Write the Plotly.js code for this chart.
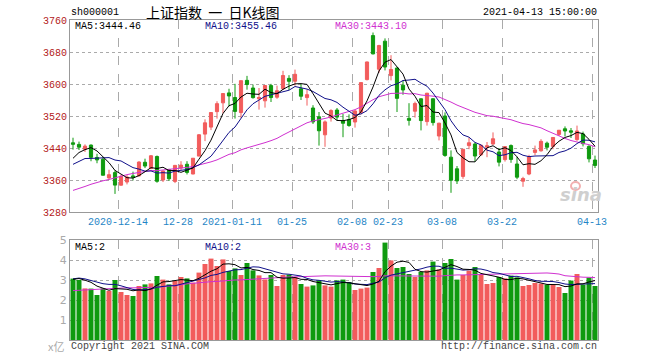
<!DOCTYPE html>
<html><head><meta charset="utf-8">
<script src="https://cdn.plot.ly/plotly-3.0.1.min.js"></script>
<style>html,body{margin:0;padding:0;background:#fff}#chart{width:660px;height:360px}</style>
</head><body><div id="chart"></div>
<script>
const dates = ['2020-12-02','2020-12-03','2020-12-04','2020-12-07','2020-12-08','2020-12-09','2020-12-10','2020-12-11',
'2020-12-14','2020-12-15','2020-12-16','2020-12-17','2020-12-18','2020-12-21','2020-12-22','2020-12-23','2020-12-24','2020-12-25',
'2020-12-28','2020-12-29','2020-12-30','2020-12-31','2021-01-04','2021-01-05','2021-01-06','2021-01-07','2021-01-08',
'2021-01-11','2021-01-12','2021-01-13','2021-01-14','2021-01-15','2021-01-18','2021-01-19','2021-01-20','2021-01-21','2021-01-22',
'2021-01-25','2021-01-26','2021-01-27','2021-01-28','2021-01-29','2021-02-01','2021-02-02','2021-02-03','2021-02-04','2021-02-05',
'2021-02-08','2021-02-09','2021-02-10','2021-02-18','2021-02-19','2021-02-22',
'2021-02-23','2021-02-24','2021-02-25','2021-02-26','2021-03-01','2021-03-02','2021-03-03','2021-03-04','2021-03-05',
'2021-03-08','2021-03-09','2021-03-10','2021-03-11','2021-03-12','2021-03-15','2021-03-16','2021-03-17','2021-03-18','2021-03-19',
'2021-03-22','2021-03-23','2021-03-24','2021-03-25','2021-03-26','2021-03-29','2021-03-30','2021-03-31','2021-04-01','2021-04-02',
'2021-04-06','2021-04-07','2021-04-08','2021-04-09','2021-04-12','2021-04-13'];

const openP = [3453.0,3449.0,3436.9,3447.2,3416.4,3411.8,3365.3,3378.5,
3347.1,3355.0,3370.2,3370.4,3404.3,3389.0,3418.8,3360.0,3386.0,3356.5,
3390.0,3399.3,3375.0,3419.7,3474.7,3492.2,3530.9,3552.9,3577.7,
3566.2,3528.6,3609.1,3590.0,3563.0,3558.0,3596.0,3567.0,3588.0,3614.0,
3607.0,3588.0,3566.0,3540.0,3518.0,3473.0,3515.0,3535.0,3508.0,3511.0,
3505.0,3529.0,3611.0,3721.0,3637.0,3707.0,
3621.0,3640.0,3597.0,3514.0,3532.0,3563.0,3506.0,3563.0,3470.0,
3520.0,3417.0,3388.0,3369.0,3446.0,3450.0,3423.0,3442.0,3450.0,3430.0,
3411.0,3446.0,3400.0,3357.0,3375.0,3429.0,3433.0,3452.0,3444.0,3474.0,
3488.0,3483.0,3461.0,3475.0,3444.0,3410.0];

const highP = [3465.7,3456.0,3449.0,3449.0,3425.6,3417.7,3385.6,3384.6,
3373.6,3372.0,3380.9,3406.9,3413.3,3422.4,3421.1,3384.0,3387.9,3397.6,
3407.0,3407.0,3414.5,3474.9,3511.7,3528.7,3556.8,3576.2,3588.1,
3600.5,3608.3,3620.3,3598.6,3590.0,3597.2,3600.4,3596.0,3633.0,3622.0,
3636.0,3600.0,3586.0,3547.0,3530.0,3509.0,3537.0,3540.0,3525.0,3524.0,
3535.0,3603.5,3656.0,3731.7,3698.0,3714.0,
3672.0,3641.0,3609.0,3552.0,3556.0,3564.0,3578.0,3564.0,3503.0,
3529.0,3434.0,3395.0,3437.0,3466.0,3454.0,3448.0,3455.0,3479.0,3440.0,
3444.0,3449.0,3418.0,3368.0,3423.0,3446.0,3462.0,3456.0,3467.0,3485.0,
3494.0,3490.0,3496.0,3481.0,3447.0,3421.0];

const lowP = [3435.9,3435.0,3430.0,3406.9,3401.9,3371.5,3362.7,3325.2,
3345.8,3349.0,3358.9,3368.7,3389.8,3387.0,3353.2,3354.9,3357.6,3352.3,
3384.0,3373.8,3374.4,3419.7,3457.2,3484.7,3513.5,3526.6,3544.0,
3513.6,3515.2,3585.8,3563.4,3536.0,3541.0,3555.0,3563.0,3585.0,3585.0,
3596.0,3560.0,3546.0,3500.0,3446.0,3443.0,3506.0,3509.0,3467.0,3493.0,
3491.0,3524.0,3609.0,3674.0,3628.0,3634.0,
3609.0,3530.0,3573.0,3496.0,3516.0,3484.0,3496.0,3496.0,3459.0,
3418.0,3328.0,3350.0,3363.0,3437.0,3406.0,3420.0,3417.0,3448.0,3394.0,
3406.0,3403.0,3362.0,3343.0,3372.0,3422.0,3431.0,3434.0,3437.0,3470.0,
3469.0,3465.0,3458.0,3444.0,3404.0,3390.0];

const closeP = [3449.38,3442.14,3444.58,3416.60,3410.18,3371.96,3373.28,3347.19,
3369.12,3367.23,3366.98,3404.87,3394.90,3420.57,3356.78,3382.32,3363.11,3396.56,
3397.29,3379.04,3414.45,3473.07,3502.96,3528.68,3550.88,3576.20,3570.11,
3531.50,3608.34,3598.65,3565.90,3566.38,3596.22,3566.12,3583.09,3621.26,3606.75,
3624.24,3569.43,3573.34,3505.18,3483.07,3505.28,3533.68,3517.31,3501.86,3496.33,
3532.44,3603.49,3655.09,3675.36,3696.17,3642.44,
3636.36,3564.08,3585.05,3509.08,3551.40,3508.59,3576.90,3503.49,3501.99,
3421.41,3359.29,3357.74,3436.83,3453.08,3419.95,3446.73,3445.55,3463.07,3404.66,
3443.44,3411.51,3367.06,3363.59,3418.33,3435.30,3456.68,3441.91,3466.33,3484.39,
3482.48,3479.63,3482.56,3450.68,3412.95,3396.47];

// closes of the 29 sessions before the first candle (needed for the moving averages)
const priorClose = [3312.50,3278.00,3251.12,3254.32,3269.24,3272.74,3224.53,3225.12,3271.07,3277.44,
3320.13,3312.16,3373.73,3360.15,3342.20,3338.68,3310.10,3346.97,3339.90,3347.30,
3363.09,3377.73,3414.49,3402.82,3362.33,3369.73,3408.31,3391.76,3451.94];

const volume = [3.07,3.0,2.58,2.57,2.25,2.58,2.45,3.0,2.4,2.25,
2.2,2.7,2.78,2.83,3.2,3.02,2.78,2.95,3.15,3.08,
2.87,3.37,3.8,4.07,3.7,4.03,3.45,3.58,3.25,3.85,
3.48,3.23,3.03,3.25,2.7,3.25,3.27,3.15,2.8,2.67,
2.73,2.98,2.73,2.67,2.98,3.02,2.9,2.5,2.57,2.62,
3.4,3.6,4.87,3.98,3.6,3.65,3.3,3.15,3.4,3.48,
3.92,3.53,3.85,4.05,3.02,3.25,3.47,3.65,3.25,2.8,
2.85,3.15,3.08,3.22,3.13,2.7,2.75,2.85,2.82,2.77,
2.75,2.65,2.35,2.97,3.3,2.77,3.12,2.7];

const priorVolume = [2.3,2.2,1.9,2.1,2.0,2.1,2.2,1.9,2.1,2.3,
2.6,2.4,3.0,2.6,2.2,2.0,1.9,2.0,1.8,1.9,
2.6,3.0,3.4,3.3,3.1,2.8,3.0,3.1,3.2];

const tickDates = ['2020-12-14','2020-12-28','2021-01-11','2021-01-25','2021-02-08','2021-02-23','2021-03-08','2021-03-22','2021-04-13'];
const tickText  = ['2020-12-14','12-28','2021-01-11','01-25','02-08','02-23','03-08','03-22','04-13'];
const priceTicks = [3280,3360,3440,3520,3600,3680,3760];
const volTicks = [1,2,3,4,5];
const priceLabels = ['MA5:3444.46', 'MA10:3455.46', 'MA30:3443.10'];
const volLabels = ['MA5:2', 'MA10:2', 'MA30:3'];

const RED = '#f25c5c', GREEN = '#0f9a0f';
const C5 = '#000000', C10 = '#10108a', C30 = '#d030d0';
const MONO = 'Liberation Mono, DejaVu Sans Mono, monospace';

const idx = dates.map((d, i) => i);
const tickPos = tickDates.map(d => dates.indexOf(d) - 0.5);

function movingAvg(prior, cur, n) {
  const all = prior.concat(cur), out = [];
  for (let i = 0; i < cur.length; i++) {
    const end = prior.length + i;
    let s = 0;
    for (let j = end - n + 1; j <= end; j++) s += all[j];
    out.push(s / n);
  }
  return out;
}
const ma5 = movingAvg(priorClose, closeP, 5);
const ma10 = movingAvg(priorClose, closeP, 10);
const ma30 = movingAvg(priorClose, closeP, 30);
const vma5 = movingAvg(priorVolume, volume, 5);
const vma10 = movingAvg(priorVolume, volume, 10);
const vma30 = movingAvg(priorVolume, volume, 30);
const volColors = closeP.map((c, i) => c >= openP[i] ? RED : GREEN);

const line = (y, color, xa, ya) => ({type:'scatter', mode:'lines', x: idx, y: y, xaxis: xa, yaxis: ya,
  line:{color: color, width: 1}, hoverinfo:'skip'});

const traces = [
  {type:'candlestick', x: idx, open: openP, high: highP, low: lowP, close: closeP,
   xaxis:'x', yaxis:'y', whiskerwidth: 0,
   increasing:{line:{color: RED, width: 1}, fillcolor: RED},
   decreasing:{line:{color: GREEN, width: 1}, fillcolor: GREEN}, hoverinfo:'skip'},
  line(ma30, C30, 'x', 'y'),
  line(ma10, C10, 'x', 'y'),
  line(ma5, C5, 'x', 'y'),
  {type:'bar', x: idx, y: volume, xaxis:'x2', yaxis:'y2', marker:{color: volColors, line:{width:0}}, hoverinfo:'skip'},
  line(vma30, C30, 'x2', 'y2'),
  line(vma10, C10, 'x2', 'y2'),
  line(vma5, C5, 'x2', 'y2')
];

const px = x => (x - 70) / 528;
const py = y => (340 - y) / 320;
const ann = (text, x, y, xanchor, color, size, family, bg) => ({text, x: px(x), y: py(y), xref:'paper', yref:'paper',
  xanchor, yanchor:'middle', showarrow:false, bgcolor: bg || 'rgba(0,0,0,0)', borderpad: 0,
  font:{family: family || MONO, size: size || 10, color}});

const gridX = {tickvals: tickPos, showgrid: true, gridcolor:'#aaaaaa', griddash:'dash', gridwidth: 1,
  showline: true, mirror: true, linecolor:'#999999', linewidth: 1, zeroline: false, ticks:'',
  range:[-0.5, idx.length - 0.5], fixedrange: true};

const layout = {
  width: 660, height: 360, margin:{l:70, r:62, t:20, b:20},
  paper_bgcolor:'#ffffff', plot_bgcolor:'#ffffff', showlegend:false, hovermode:false,
  boxgap: 0.25, bargap: 0.17,
  xaxis: Object.assign({}, gridX, {domain:[0,1], anchor:'y', rangeslider:{visible:false},
    ticktext: tickText, tickfont:{family: MONO, size: 10, color:'#1f86c6'}}),
  xaxis2: Object.assign({}, gridX, {domain:[0,1], anchor:'y2', matches:'x', showticklabels:false}),
  yaxis: {domain:[0.4,1], range:[3280,3760], tickvals: priceTicks, ticks:'',
    tickfont:{family: MONO, size: 10, color:'#b32020'}, showgrid:true, gridcolor:'#aaaaaa', griddash:'dot',
    showline:true, mirror:true, linecolor:'#999999', linewidth:1, zeroline:false, fixedrange:true},
  yaxis2: {domain:[0,0.3125], range:[0,5], tickvals: volTicks, ticks:'',
    tickfont:{family:'DejaVu Sans, sans-serif', size: 11, color:'#aaaaaa'}, showgrid:true, gridcolor:'#aaaaaa', griddash:'dot',
    showline:true, mirror:true, linecolor:'#999999', linewidth:1, zeroline:false, fixedrange:true},
  annotations: [
    ann('sh000001', 70, 12, 'left', '#000000', 10),
    ann('上证指数  一  日K线图', 213, 12, 'center', '#000000', 14, 'Noto Sans CJK SC, sans-serif'),
    ann('2021-04-13 15:00:00', 598, 12, 'right', '#000000', 10),
    ann(priceLabels[0], 74, 26, 'left', C5, 10, MONO, '#ffffff'),
    ann(priceLabels[1], 204, 26, 'left', C10, 10, MONO, '#ffffff'),
    ann(priceLabels[2], 334, 26, 'left', C30, 10, MONO, '#ffffff'),
    ann(volLabels[0], 74, 247, 'left', C5, 10, MONO, '#ffffff'),
    ann(volLabels[1], 204, 247, 'left', C10, 10, MONO, '#ffffff'),
    ann(volLabels[2], 334, 247, 'left', C30, 10, MONO, '#ffffff'),
    ann('x亿', 65, 346, 'right', '#aaaaaa', 11, 'Noto Sans CJK SC, sans-serif'),
    ann('Copyright 2021 SINA.COM', 70, 346, 'left', '#444444', 10),
    ann('http://finance.sina.com.cn', 598, 346, 'right', '#444444', 10),
    {text:'sina', x: px(581), y: py(194), xref:'paper', yref:'paper', xanchor:'center', yanchor:'middle', showarrow:false,
     font:{family:'DejaVu Sans, sans-serif', size:18, color:'#cfcfcf', style:'italic', weight:'bold'}}
  ],
  shapes: [
    {type:'circle', xref:'paper', yref:'paper', x0: px(571), x1: px(580), y0: py(190), y1: py(182),
     line:{color:'#f2b0b0', width:2}, fillcolor:'rgba(0,0,0,0)'}
  ]
};

Plotly.newPlot('chart', traces, layout, {displayModeBar:false, staticPlot:true});
</script></body></html>
